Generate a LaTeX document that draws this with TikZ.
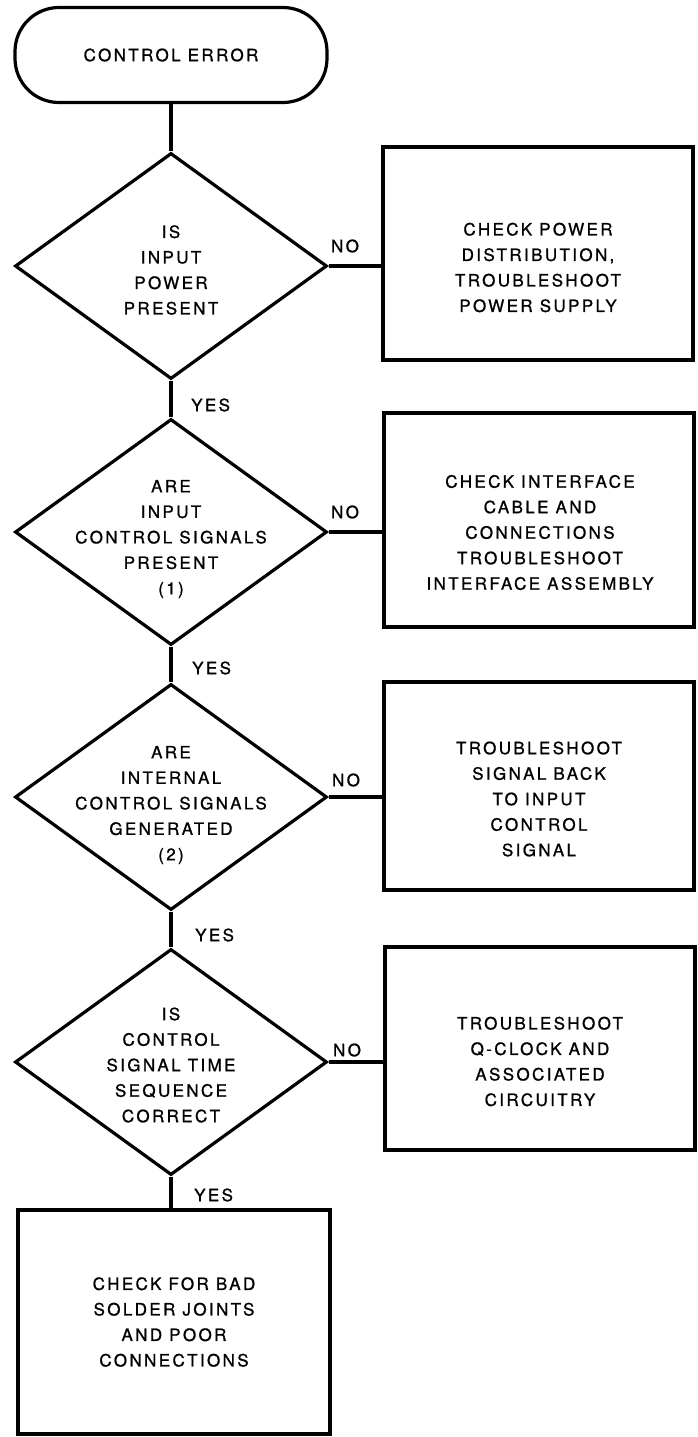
\documentclass[tikz,border=0pt]{standalone}
\usepackage{fontspec}
\usetikzlibrary{shapes.geometric}
\newfontfamily\chartfont[LetterSpace=14,FakeBold=1.0]{TeX Gyre Heros}

\begin{document}
\begin{tikzpicture}[x=1pt,y=-1pt,
  every node/.style={font=\chartfont\fontsize{17}{25.5}\selectfont},
  terminal/.style={rectangle, draw, rounded corners=44pt, line width=3.2pt,
    minimum width=312pt, minimum height=95pt, inner sep=0pt},
  decision/.style={diamond, draw, line width=3.2pt, minimum width=312pt,
    minimum height=226pt, inner sep=0pt},
  action/.style={rectangle, draw, line width=3.2pt, minimum width=310pt,
    inner sep=0pt},
  txt/.style={align=center, inner sep=0pt},
  lbl/.style={inner sep=0pt},
  flow/.style={line width=3.2pt}]
\useasboundingbox (0,0) rectangle (698,1437);

% start
\node[terminal] (start) at (171,55) {CONTROL ERROR};

% decisions down the left column
\node[decision] (q1) at (171,266) {};
\node[decision] (q2) at (171,532) {};
\node[decision] (q3) at (171,797) {};
\node[decision] (q4) at (171,1062) {};

\node[txt] (q1t) at (171,270) {IS\\INPUT\\POWER\\PRESENT};
\node[txt] (q2t) at (171,539) {ARE\\INPUT\\CONTROL SIGNALS\\PRESENT\\(1)};
\node[txt] (q3t) at (171,805) {ARE\\INTERNAL\\CONTROL SIGNALS\\GENERATED\\(2)};
\node[txt] (q4t) at (171,1065) {IS\\CONTROL\\SIGNAL TIME\\SEQUENCE\\CORRECT};

% actions on the right
\node[action, minimum height=213pt] (a1) at (538,253.5) {};
\node[action, minimum height=214pt] (a2) at (539,520) {};
\node[action, minimum height=208pt] (a3) at (539,786) {};
\node[action, minimum height=203pt] (a4) at (540,1048.5) {};

\node[txt] (a1t) at (538,267.5) {CHECK POWER\\DISTRIBUTION,\\TROUBLESHOOT\\POWER SUPPLY};
\node[txt] (a2t) at (540,532.5) {CHECK INTERFACE\\CABLE AND\\CONNECTIONS\\TROUBLESHOOT\\INTERFACE ASSEMBLY};
\node[txt] (a3t) at (539,799) {TROUBLESHOOT\\SIGNAL BACK\\TO INPUT\\CONTROL\\SIGNAL};
\node[txt] (a4t) at (540,1061.5) {TROUBLESHOOT\\Q-CLOCK AND\\ASSOCIATED\\CIRCUITRY};

% final action
\node[action, minimum width=312pt, minimum height=224pt, txt, draw, line width=3.2pt]
  (fin) at (174,1322) {CHECK FOR BAD\\SOLDER JOINTS\\AND POOR\\CONNECTIONS};

% YES branches
\draw[flow] (start.south) -- (q1.north);
\draw[flow] (q1.south) -- (q2.north);
\draw[flow] (q2.south) -- (q3.north);
\draw[flow] (q3.south) -- (q4.north);
\draw[flow] (q4.south) -- (q4.south |- fin.north);

% NO branches
\draw[flow] (q1.east) -- (q1.east -| a1.west);
\draw[flow] (q2.east) -- (q2.east -| a2.west);
\draw[flow] (q3.east) -- (q3.east -| a3.west);
\draw[flow] (q4.east) -- (q4.east -| a4.west);

% branch labels
\node[lbl, anchor=west] (y1) at (191,405) {YES};
\node[lbl, anchor=west] (y2) at (192,668) {YES};
\node[lbl, anchor=west] (y3) at (195,935) {YES};
\node[lbl, anchor=west] (y4) at (194,1195) {YES};

\node[lbl] (n1) at (345,246) {NO};
\node[lbl] (n2) at (345,512) {NO};
\node[lbl] (n3) at (346,780) {NO};
\node[lbl] (n4) at (347,1050) {NO};
\end{tikzpicture}
\end{document}
